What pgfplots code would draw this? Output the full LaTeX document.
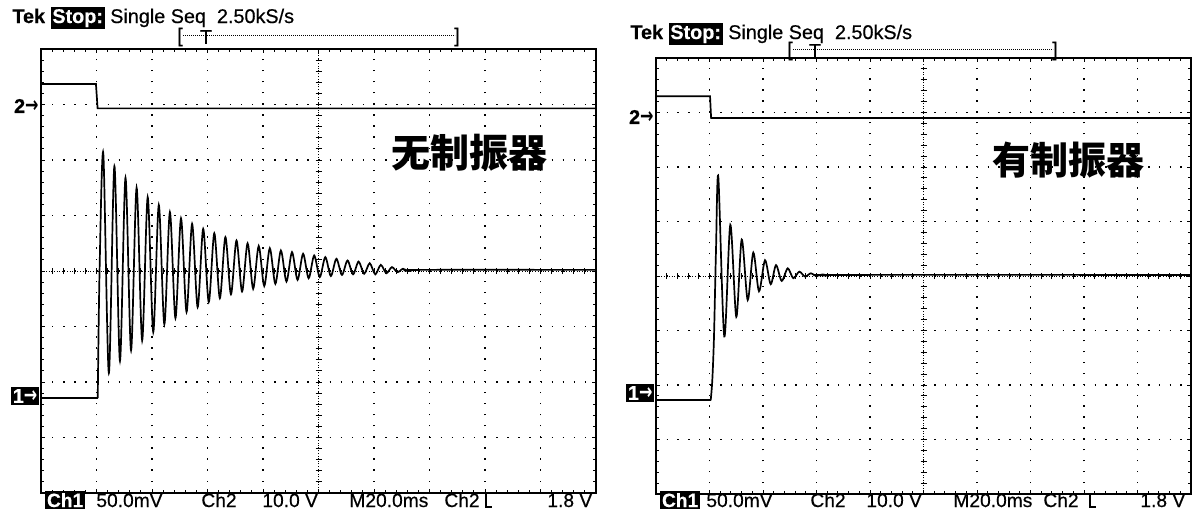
\documentclass[border=0pt]{standalone}
\usepackage{graphicx}
\usepackage{pgfplots}
\pgfplotsset{compat=1.18}
\usepackage{fontspec}
\setmainfont{Liberation Sans}[FakeBold=0.5]
\newfontfamily\dejavu{DejaVu Sans}
\newfontfamily\cjk{Noto Sans CJK SC}
\newcommand\tekfont{\fontsize{9.9pt}{11pt}\selectfont}
\newcommand\botfont{\fontsize{9.6pt}{11pt}\selectfont}
\newcommand\arr{\scalebox{0.8}[1.1]{\dejavu\bfseries →}}
\begin{document}
\begin{tikzpicture}
\useasboundingbox (0pt,0pt) rectangle (602pt,258pt);
\pgfplotsset{
  tekframe/.style={
    scale only axis, anchor=south west,
    xmin=-20, xmax=180, ymin=-4, ymax=4,
    xtick={-20,0,...,180}, ytick={-4,-3,...,4},
    xticklabels={}, yticklabels={},
    minor x tick num=4, minor y tick num=4,
    major tick length=2.2pt, minor tick length=1.3pt,
    tick style={black, line width=0.45pt},
    axis line style={black, line width=0.7pt},
    grid=major,
    grid style={black, line width=0.7pt},
  },
  tekcenter/.style={
    scale only axis, anchor=south west,
    xmin=-5, xmax=5, ymin=-4, ymax=4,
    axis lines=middle,
    axis line style={-, black, line width=0.5pt, dash pattern=on 0.5pt off 0.8pt},
    every inner x axis line/.append style={-},
    every inner y axis line/.append style={-},
    xtick={-5,-4.8,...,5.01}, ytick={-4,-3.8,...,4.01},
    xticklabels={}, yticklabels={},
    tick align=center, major tick length=3pt,
    tick style={black, line width=0.45pt},
  },
  trace/.style={black, line width=0.85pt},
}

% ---------------- left panel: without damper ----------------
\begin{axis}[tekframe, at={(20.5pt,11.5pt)}, width=277.5pt, height=222pt,
  every axis x grid/.style={dash pattern=on 0.7pt off 4.85pt},
  every axis y grid/.style={dash pattern=on 0.7pt off 4.85pt}]
% Ch2
\addplot[trace] coordinates {(-20,3.37) (-0.2,3.37) (0.4,2.93) (180,2.93)};
% Ch1 baseline
\addplot[trace] coordinates {(-20,-2.29) (0.45,-2.29)};
% Ch1 ringing
\addplot[trace, smooth, tension=0.5] coordinates {
(0.45,-2.29) (1.1,0.0) (2.45,2.12) (4.45,-1.84) (6.45,1.89) (8.45,-1.62)
(10.45,1.68) (12.45,-1.43) (14.45,1.50) (16.45,-1.25) (18.45,1.33) (20.45,-1.10)
(22.45,1.19) (24.45,-0.96) (26.45,1.06) (28.45,-0.85) (30.45,0.95) (32.45,-0.74)
(34.45,0.85) (36.45,-0.65) (38.45,0.76) (40.45,-0.56) (42.45,0.68) (44.45,-0.49)
(46.45,0.61) (48.45,-0.42) (50.45,0.55) (52.45,-0.37) (54.45,0.50) (56.45,-0.32)
(58.45,0.45) (60.45,-0.27) (62.45,0.41) (64.45,-0.23) (66.45,0.37) (68.45,-0.19)
(70.45,0.34) (72.45,-0.16) (74.45,0.31) (76.45,-0.13) (78.45,0.28) (80.45,-0.11)
(82.45,0.25) (84.45,-0.09) (86.45,0.22) (88.45,-0.07) (90.45,0.19) (92.45,-0.06)
(94.45,0.17) (96.45,-0.05) (98.45,0.14) (100.45,-0.06) (102.45,0.11) (104.45,-0.04)
(106.45,0.07) (108.45,-0.02) (110.45,0.04) (112.45,0.00) (116,0.02) (180,0.02)};
\end{axis}
\begin{axis}[tekcenter, at={(20.5pt,11.5pt)}, width=277.5pt, height=222pt]
\end{axis}

% ---------------- right panel: with damper ----------------
\begin{axis}[tekframe, at={(328pt,11pt)}, width=267.5pt, height=218pt,
  every axis x grid/.style={dash pattern=on 0.7pt off 4.75pt},
  every axis y grid/.style={dash pattern=on 0.7pt off 4.65pt}]
\addplot[trace] coordinates {(-20,3.30) (0.2,3.30) (0.6,2.90) (180,2.90)};
\addplot[trace] coordinates {(-20,-2.28) (0.45,-2.28)};
\addplot[trace, smooth, tension=0.5] coordinates {
(0.45,-2.28) (1.05,-1.91) (1.68,-1.11) (2.43,0.48) (3.29,1.82) (5.53,-1.11)
(7.78,0.94) (10.02,-0.75) (12.04,0.67) (14.28,-0.44) (16.37,0.43) (18.5,-0.28)
(20.75,0.29) (22.87,-0.15) (24.86,0.20) (26.99,-0.09) (29.23,0.14) (31.33,-0.04)
(33.57,0.08) (35.7,-0.01) (37.9,0.05) (40.0,0.0) (42.2,0.03) (44.4,0.01)
(48,0.02) (180,0.02)};
\end{axis}
\begin{axis}[tekcenter, at={(328pt,11pt)}, width=267.5pt, height=218pt]
\end{axis}

% ---------------- texts ----------------
\fboxsep=0.9pt
% headers
\node[anchor=base west, inner sep=0, font=\tekfont] at (6pt,246.5pt)
  {\textbf{Tek} \colorbox{black}{\textcolor{white}{\textbf{Stop:}}} Single Seq\ \ 2.50kS/s};
\node[anchor=base west, inner sep=0, font=\tekfont] at (315pt,238.5pt)
  {\textbf{Tek} \colorbox{black}{\textcolor{white}{\textbf{Stop:}}} Single Seq\ \ 2.50kS/s};
% record bars
\draw[black, line width=0.5pt, dash pattern=on 0.4pt off 0.6pt] (91.5pt,240.5pt) -- (227.5pt,240.5pt);
\node[inner sep=0, font=\tekfont] at (90pt,239.5pt) {[};
\node[inner sep=0, font=\tekfont] at (228.5pt,239.5pt) {]};
\node[inner sep=0, font=\tekfont] at (103pt,239.5pt) {T};
\draw[black, line width=0.5pt, dash pattern=on 0.4pt off 0.6pt] (396.5pt,233.5pt) -- (526.5pt,233.5pt);
\node[inner sep=0, font=\tekfont] at (395pt,232.5pt) {[};
\node[inner sep=0, font=\tekfont] at (527.5pt,232.5pt) {]};
\node[inner sep=0, font=\tekfont] at (407.5pt,232.5pt) {T};
% channel markers
\node[anchor=east, inner sep=0.5pt, font=\fontsize{10pt}{11pt}\selectfont\bfseries] at (20pt,205pt) {2\arr};
\node[anchor=east, inner sep=0.9pt, fill=black, text=white, font=\fontsize{10pt}{11pt}\selectfont\bfseries] at (19.8pt,60pt) {1\arr};
\node[anchor=east, inner sep=0.5pt, font=\fontsize{10pt}{11pt}\selectfont\bfseries] at (327.5pt,199.5pt) {2\arr};
\node[anchor=east, inner sep=0.9pt, fill=black, text=white, font=\fontsize{10pt}{11pt}\selectfont\bfseries] at (327.3pt,61.5pt) {1\arr};
% Chinese labels
\node[font=\cjk\bfseries\fontsize{19.5pt}{21pt}\selectfont] at (234.5pt,181.5pt) {无制振器};
\node[font=\cjk\bfseries\fontsize{19pt}{21pt}\selectfont] at (534pt,178pt) {有制振器};
% bottom status lines
\node[anchor=base west, inner sep=0.8pt, fill=black, text=white, font=\botfont\bfseries] at (22.5pt,4.5pt) {Ch1};
\node[anchor=base west, inner sep=0, font=\botfont] at (48pt,4.5pt) {50.0mV};
\node[anchor=base west, inner sep=0, font=\botfont] at (100.5pt,4.5pt) {Ch2};
\node[anchor=base west, inner sep=0, font=\botfont] at (131pt,4.5pt) {10.0 V};
\node[anchor=base west, inner sep=0, font=\botfont] at (174.5pt,4.5pt) {M20.0ms};
\node[anchor=base west, inner sep=0, font=\botfont] at (222pt,4.5pt) {Ch2};
\draw[black, line width=0.85pt] (239.5pt,11.2pt) -- (243pt,11.2pt) -- (243pt,4.6pt) -- (246.2pt,4.6pt);
\node[anchor=base west, inner sep=0, font=\botfont] at (273.5pt,4.5pt) {1.8 V};
\node[anchor=base west, inner sep=0.8pt, fill=black, text=white, font=\botfont\bfseries] at (330pt,4.5pt) {Ch1};
\node[anchor=base west, inner sep=0, font=\botfont] at (353pt,4.5pt) {50.0mV};
\node[anchor=base west, inner sep=0, font=\botfont] at (405pt,4.5pt) {Ch2};
\node[anchor=base west, inner sep=0, font=\botfont] at (433pt,4.5pt) {10.0 V};
\node[anchor=base west, inner sep=0, font=\botfont] at (476.5pt,4.5pt) {M20.0ms};
\node[anchor=base west, inner sep=0, font=\botfont] at (521.5pt,4.5pt) {Ch2};
\draw[black, line width=0.85pt] (541.5pt,11.2pt) -- (545pt,11.2pt) -- (545pt,4.6pt) -- (548.2pt,4.6pt);
\node[anchor=base west, inner sep=0, font=\botfont] at (570pt,4.5pt) {1.8 V};
\end{tikzpicture}
\end{document}
